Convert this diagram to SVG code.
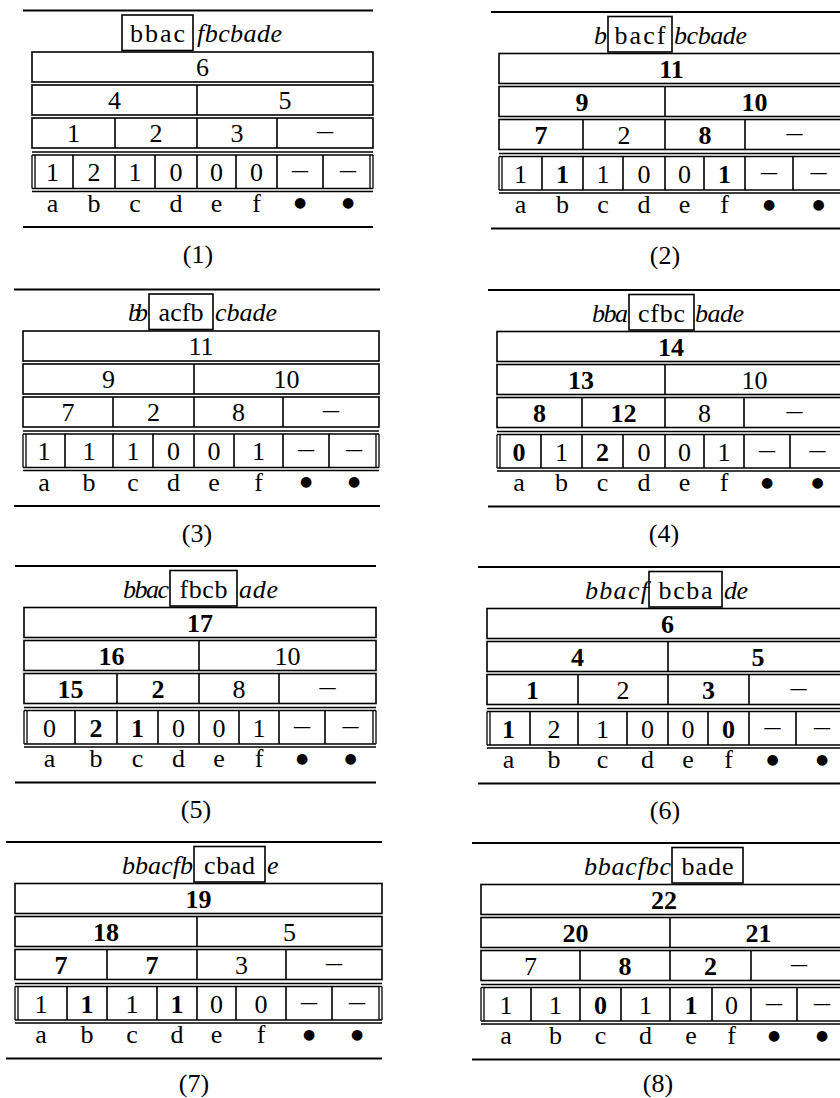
<svg xmlns="http://www.w3.org/2000/svg" width="840" height="1098" viewBox="0 0 840 1098">
<style>
.t{font-family:"Liberation Serif","Times New Roman",serif;font-size:26px;fill:#000;text-anchor:middle}
.i{font-style:italic}
.b{font-weight:bold}
.s{text-anchor:start}
.e{text-anchor:end}
.d{font-family:"DejaVu Sans",sans-serif;font-size:14px}
.rule{stroke:#000;stroke-width:2.2;fill:none}
.box{fill:none;stroke:#000;stroke-width:1.6}
.ln{stroke:#000;stroke-width:1.6;fill:none}
.dl{stroke:#000;stroke-width:1.3;fill:none}
</style>
<rect width="840" height="1098" fill="#fff"/>

<g id="panel1">
<path class="rule" d="M23 10.5H373M23 227H373"/>
<rect class="box" x="122" y="15" width="71" height="35.5"/>
<text class="t" x="157.5" y="42" textLength="55" lengthAdjust="spacing">bbac</text>
<text class="t i s" x="197" y="42" textLength="85" lengthAdjust="spacing">fbcbade</text>
<rect class="box" x="32" y="52" width="341" height="30"/>
<text class="t" x="202.5" y="76">6</text>
<rect class="box" x="32" y="85" width="341" height="30"/>
<path class="ln" d="M197 85V115"/>
<text class="t" x="114.5" y="109">4</text><text class="t" x="285" y="109">5</text>
<rect class="box" x="32" y="118" width="341" height="30"/>
<path class="ln" d="M115 118V148M197 118V148M277 118V148"/>
<text class="t" x="73.5" y="142">1</text><text class="t" x="156" y="142">2</text><text class="t" x="237" y="142">3</text><text class="t" x="325" y="139" textLength="16" lengthAdjust="spacingAndGlyphs">–</text>
<path class="dl" d="M32 152H373M32 155H373M32 188.5H373M32 191.5H373M32 155V188.5M35 155V188.5M370 155V188.5M373 155V188.5"/>
<path class="ln" d="M73 155V188.5M115 155V188.5M155 155V188.5M197 155V188.5M236 155V188.5M277 155V188.5M323 155V188.5"/>
<text class="t" x="52.5" y="181">1</text><text class="t" x="94" y="181">2</text><text class="t" x="135" y="181">1</text><text class="t" x="176" y="181">0</text><text class="t" x="216.5" y="181">0</text><text class="t" x="256.5" y="181">0</text><text class="t" x="300" y="178" textLength="16" lengthAdjust="spacingAndGlyphs">–</text><text class="t" x="348" y="178" textLength="16" lengthAdjust="spacingAndGlyphs">–</text>
<text class="t" x="52.5" y="211.5">a</text><text class="t" x="94" y="211.5">b</text><text class="t" x="135" y="211.5">c</text><text class="t" x="176" y="211.5">d</text><text class="t" x="216.5" y="211.5">e</text><text class="t" x="256.5" y="211.5">f</text><text class="t d" x="300" y="207">●</text><text class="t d" x="348" y="207">●</text>
<text class="t" x="198" y="262.5">(1)</text>
</g>

<g id="panel2">
<path class="rule" d="M491 12H850M491 228.5H850"/>
<rect class="box" x="608" y="16.5" width="64" height="35.5"/>
<text class="t i e" x="607" y="43.5">b</text>
<text class="t" x="640" y="43.5" textLength="51" lengthAdjust="spacing">bacf</text>
<text class="t i s" x="674" y="43.5" textLength="73" lengthAdjust="spacing">bcbade</text>
<rect class="box" x="499" y="53.5" width="345" height="30"/>
<text class="t b" x="671.5" y="77.5">11</text>
<rect class="box" x="499" y="86.5" width="345" height="30"/>
<path class="ln" d="M665 86.5V116.5"/>
<text class="t b" x="582" y="110.5">9</text><text class="t b" x="754.5" y="110.5">10</text>
<rect class="box" x="499" y="119.5" width="345" height="30"/>
<path class="ln" d="M583 119.5V149.5M665 119.5V149.5M745 119.5V149.5"/>
<text class="t b" x="541" y="143.5">7</text><text class="t" x="624" y="143.5">2</text><text class="t b" x="705" y="143.5">8</text><text class="t" x="794.5" y="140.5" textLength="16" lengthAdjust="spacingAndGlyphs">–</text>
<path class="dl" d="M499 153.5H844M499 156.5H844M499 190H844M499 193H844M499 156.5V190M502 156.5V190M841 156.5V190M844 156.5V190"/>
<path class="ln" d="M542 156.5V190M583 156.5V190M623 156.5V190M665 156.5V190M704 156.5V190M745 156.5V190M793 156.5V190"/>
<text class="t" x="520.5" y="182.5">1</text><text class="t b" x="562.5" y="182.5">1</text><text class="t" x="603" y="182.5">1</text><text class="t" x="644" y="182.5">0</text><text class="t" x="684.5" y="182.5">0</text><text class="t b" x="724.5" y="182.5">1</text><text class="t" x="769" y="179.5" textLength="16" lengthAdjust="spacingAndGlyphs">–</text><text class="t" x="818.5" y="179.5" textLength="16" lengthAdjust="spacingAndGlyphs">–</text>
<text class="t" x="520.5" y="213">a</text><text class="t" x="562.5" y="213">b</text><text class="t" x="603" y="213">c</text><text class="t" x="644" y="213">d</text><text class="t" x="684.5" y="213">e</text><text class="t" x="724.5" y="213">f</text><text class="t d" x="769" y="208.5">●</text><text class="t d" x="818.5" y="208.5">●</text>
<text class="t" x="665" y="264">(2)</text>
</g>

<g id="panel3">
<path class="rule" d="M14 289.5H380M14 506H380"/>
<rect class="box" x="149" y="294" width="64" height="35.5"/>
<text class="t i e" x="148" y="321" textLength="20" lengthAdjust="spacing">bb</text>
<text class="t" x="181" y="321" textLength="45" lengthAdjust="spacing">acfb</text>
<text class="t i s" x="215" y="321" textLength="62" lengthAdjust="spacing">cbade</text>
<rect class="box" x="23" y="331" width="356" height="30"/>
<text class="t" x="201" y="355">11</text>
<rect class="box" x="23" y="364" width="356" height="30"/>
<path class="ln" d="M194 364V394"/>
<text class="t" x="108.5" y="388">9</text><text class="t" x="286.5" y="388">10</text>
<rect class="box" x="23" y="397" width="356" height="30"/>
<path class="ln" d="M113 397V427M194 397V427M283 397V427"/>
<text class="t" x="68" y="421">7</text><text class="t" x="153.5" y="421">2</text><text class="t" x="238.5" y="421">8</text><text class="t" x="331" y="418" textLength="16" lengthAdjust="spacingAndGlyphs">–</text>
<path class="dl" d="M23 431H379M23 434H379M23 467.5H379M23 470.5H379M23 434V467.5M26 434V467.5M376 434V467.5M379 434V467.5"/>
<path class="ln" d="M65 434V467.5M113 434V467.5M153 434V467.5M194 434V467.5M234 434V467.5M283 434V467.5M329 434V467.5"/>
<text class="t" x="44" y="460">1</text><text class="t" x="89" y="460">1</text><text class="t" x="133" y="460">1</text><text class="t" x="173.5" y="460">0</text><text class="t" x="214" y="460">0</text><text class="t" x="258.5" y="460">1</text><text class="t" x="306" y="457" textLength="16" lengthAdjust="spacingAndGlyphs">–</text><text class="t" x="354" y="457" textLength="16" lengthAdjust="spacingAndGlyphs">–</text>
<text class="t" x="44" y="490.5">a</text><text class="t" x="89" y="490.5">b</text><text class="t" x="133" y="490.5">c</text><text class="t" x="173.5" y="490.5">d</text><text class="t" x="214" y="490.5">e</text><text class="t" x="258.5" y="490.5">f</text><text class="t d" x="306" y="486">●</text><text class="t d" x="354" y="486">●</text>
<text class="t" x="197" y="541.5">(3)</text>
</g>

<g id="panel4">
<path class="rule" d="M488 290H850M488 506.5H850"/>
<rect class="box" x="629" y="294.5" width="65" height="35.5"/>
<text class="t i e" x="628" y="321.5" textLength="36" lengthAdjust="spacing">bba</text>
<text class="t" x="661.5" y="321.5" textLength="47" lengthAdjust="spacing">cfbc</text>
<text class="t i s" x="695" y="321.5" textLength="49" lengthAdjust="spacing">bade</text>
<rect class="box" x="497" y="331.5" width="348" height="30"/>
<text class="t b" x="671" y="355.5">14</text>
<rect class="box" x="497" y="364.5" width="348" height="30"/>
<path class="ln" d="M665 364.5V394.5"/>
<text class="t b" x="581" y="388.5">13</text><text class="t" x="754.5" y="388.5">10</text>
<rect class="box" x="497" y="397.5" width="348" height="30"/>
<path class="ln" d="M582 397.5V427.5M665 397.5V427.5M744 397.5V427.5"/>
<text class="t b" x="539.5" y="421.5">8</text><text class="t b" x="623.5" y="421.5">12</text><text class="t" x="704.5" y="421.5">8</text><text class="t" x="794.5" y="418.5" textLength="16" lengthAdjust="spacingAndGlyphs">–</text>
<path class="dl" d="M497 431.5H845M497 434.5H845M497 468H845M497 471H845M497 434.5V468M500 434.5V468M842 434.5V468M845 434.5V468"/>
<path class="ln" d="M541 434.5V468M582 434.5V468M623 434.5V468M665 434.5V468M704 434.5V468M744 434.5V468M790 434.5V468"/>
<text class="t b" x="519" y="460.5">0</text><text class="t" x="561.5" y="460.5">1</text><text class="t b" x="602.5" y="460.5">2</text><text class="t" x="644" y="460.5">0</text><text class="t" x="684.5" y="460.5">0</text><text class="t" x="724" y="460.5">1</text><text class="t" x="767" y="457.5" textLength="16" lengthAdjust="spacingAndGlyphs">–</text><text class="t" x="817.5" y="457.5" textLength="16" lengthAdjust="spacingAndGlyphs">–</text>
<text class="t" x="519" y="491">a</text><text class="t" x="561.5" y="491">b</text><text class="t" x="602.5" y="491">c</text><text class="t" x="644" y="491">d</text><text class="t" x="684.5" y="491">e</text><text class="t" x="724" y="491">f</text><text class="t d" x="767" y="486.5">●</text><text class="t d" x="817.5" y="486.5">●</text>
<text class="t" x="664" y="542">(4)</text>
</g>

<g id="panel5">
<path class="rule" d="M15 566H376M15 782.5H376"/>
<rect class="box" x="170" y="570.5" width="67" height="35.5"/>
<text class="t i e" x="169" y="597.5" textLength="46" lengthAdjust="spacing">bbac</text>
<text class="t" x="203.5" y="597.5" textLength="48" lengthAdjust="spacing">fbcb</text>
<text class="t i s" x="239" y="597.5" textLength="39" lengthAdjust="spacing">ade</text>
<rect class="box" x="24" y="607.5" width="352" height="30"/>
<text class="t b" x="200" y="631.5">17</text>
<rect class="box" x="24" y="640.5" width="352" height="30"/>
<path class="ln" d="M199 640.5V670.5"/>
<text class="t b" x="111.5" y="664.5">16</text><text class="t" x="287.5" y="664.5">10</text>
<rect class="box" x="24" y="673.5" width="352" height="30"/>
<path class="ln" d="M117 673.5V703.5M199 673.5V703.5M279 673.5V703.5"/>
<text class="t b" x="70.5" y="697.5">15</text><text class="t b" x="158" y="697.5">2</text><text class="t" x="239" y="697.5">8</text><text class="t" x="327.5" y="694.5" textLength="16" lengthAdjust="spacingAndGlyphs">–</text>
<path class="dl" d="M24 707.5H376M24 710.5H376M24 744H376M24 747H376M24 710.5V744M27 710.5V744M373 710.5V744M376 710.5V744"/>
<path class="ln" d="M75 710.5V744M117 710.5V744M158 710.5V744M199 710.5V744M239 710.5V744M279 710.5V744M325 710.5V744"/>
<text class="t" x="49.5" y="736.5">0</text><text class="t b" x="96" y="736.5">2</text><text class="t b" x="137.5" y="736.5">1</text><text class="t" x="178.5" y="736.5">0</text><text class="t" x="219" y="736.5">0</text><text class="t" x="259" y="736.5">1</text><text class="t" x="302" y="733.5" textLength="16" lengthAdjust="spacingAndGlyphs">–</text><text class="t" x="350.5" y="733.5" textLength="16" lengthAdjust="spacingAndGlyphs">–</text>
<text class="t" x="49.5" y="767">a</text><text class="t" x="96" y="767">b</text><text class="t" x="137.5" y="767">c</text><text class="t" x="178.5" y="767">d</text><text class="t" x="219" y="767">e</text><text class="t" x="259" y="767">f</text><text class="t d" x="302" y="762.5">●</text><text class="t d" x="350.5" y="762.5">●</text>
<text class="t" x="196" y="818">(5)</text>
</g>

<g id="panel6">
<path class="rule" d="M478 567H850M478 783.5H850"/>
<rect class="box" x="649" y="571.5" width="73" height="35.5"/>
<text class="t i e" x="648" y="598.5" textLength="63" lengthAdjust="spacing">bbacf</text>
<text class="t" x="685.5" y="598.5" textLength="54" lengthAdjust="spacing">bcba</text>
<text class="t i s" x="724" y="598.5" textLength="24" lengthAdjust="spacing">de</text>
<rect class="box" x="487" y="608.5" width="361" height="30"/>
<text class="t b" x="667.5" y="632.5">6</text>
<rect class="box" x="487" y="641.5" width="361" height="30"/>
<path class="ln" d="M668 641.5V671.5"/>
<text class="t b" x="577.5" y="665.5">4</text><text class="t b" x="758" y="665.5">5</text>
<rect class="box" x="487" y="674.5" width="361" height="30"/>
<path class="ln" d="M578 674.5V704.5M668 674.5V704.5M749 674.5V704.5"/>
<text class="t b" x="532.5" y="698.5">1</text><text class="t" x="623" y="698.5">2</text><text class="t b" x="708.5" y="698.5">3</text><text class="t" x="798.5" y="695.5" textLength="16" lengthAdjust="spacingAndGlyphs">–</text>
<path class="dl" d="M487 708.5H848M487 711.5H848M487 745H848M487 748H848M487 711.5V745M490 711.5V745M845 711.5V745M848 711.5V745"/>
<path class="ln" d="M530 711.5V745M578 711.5V745M627 711.5V745M668 711.5V745M708 711.5V745M749 711.5V745M796 711.5V745"/>
<text class="t b" x="508.5" y="737.5">1</text><text class="t" x="554" y="737.5">2</text><text class="t" x="602.5" y="737.5">1</text><text class="t" x="647.5" y="737.5">0</text><text class="t" x="688" y="737.5">0</text><text class="t b" x="728.5" y="737.5">0</text><text class="t" x="772.5" y="734.5" textLength="16" lengthAdjust="spacingAndGlyphs">–</text><text class="t" x="822" y="734.5" textLength="16" lengthAdjust="spacingAndGlyphs">–</text>
<text class="t" x="508.5" y="768">a</text><text class="t" x="554" y="768">b</text><text class="t" x="602.5" y="768">c</text><text class="t" x="647.5" y="768">d</text><text class="t" x="688" y="768">e</text><text class="t" x="728.5" y="768">f</text><text class="t d" x="772.5" y="763.5">●</text><text class="t d" x="822" y="763.5">●</text>
<text class="t" x="665" y="819">(6)</text>
</g>

<g id="panel7">
<path class="rule" d="M6 842H382M6 1058.5H382"/>
<rect class="box" x="194" y="846.5" width="71" height="35.5"/>
<text class="t i e" x="193" y="873.5" textLength="71" lengthAdjust="spacing">bbacfb</text>
<text class="t" x="229.5" y="873.5" textLength="51" lengthAdjust="spacing">cbad</text>
<text class="t i s" x="267" y="873.5">e</text>
<rect class="box" x="15" y="883.5" width="367" height="30"/>
<text class="t b" x="198.5" y="907.5">19</text>
<rect class="box" x="15" y="916.5" width="367" height="30"/>
<path class="ln" d="M197 916.5V946.5"/>
<text class="t b" x="106" y="940.5">18</text><text class="t" x="289.5" y="940.5">5</text>
<rect class="box" x="15" y="949.5" width="367" height="30"/>
<path class="ln" d="M107 949.5V979.5M197 949.5V979.5M286 949.5V979.5"/>
<text class="t b" x="61" y="973.5">7</text><text class="t b" x="152" y="973.5">7</text><text class="t" x="241.5" y="973.5">3</text><text class="t" x="334" y="970.5" textLength="16" lengthAdjust="spacingAndGlyphs">–</text>
<path class="dl" d="M15 983.5H382M15 986.5H382M15 1020H382M15 1023H382M15 986.5V1020M18 986.5V1020M379 986.5V1020M382 986.5V1020"/>
<path class="ln" d="M67 986.5V1020M107 986.5V1020M157 986.5V1020M197 986.5V1020M236 986.5V1020M286 986.5V1020M332 986.5V1020"/>
<text class="t" x="41" y="1012.5">1</text><text class="t b" x="87" y="1012.5">1</text><text class="t" x="132" y="1012.5">1</text><text class="t b" x="177" y="1012.5">1</text><text class="t" x="216.5" y="1012.5">0</text><text class="t" x="261" y="1012.5">0</text><text class="t" x="309" y="1009.5" textLength="16" lengthAdjust="spacingAndGlyphs">–</text><text class="t" x="357" y="1009.5" textLength="16" lengthAdjust="spacingAndGlyphs">–</text>
<text class="t" x="41" y="1043">a</text><text class="t" x="87" y="1043">b</text><text class="t" x="132" y="1043">c</text><text class="t" x="177" y="1043">d</text><text class="t" x="216.5" y="1043">e</text><text class="t" x="261" y="1043">f</text><text class="t d" x="309" y="1038.5">●</text><text class="t d" x="357" y="1038.5">●</text>
<text class="t" x="194" y="1091.5">(7)</text>
</g>

<g id="panel8">
<path class="rule" d="M472 843H850M472 1059.5H850"/>
<rect class="box" x="672" y="847.5" width="71" height="35.5"/>
<text class="t i e" x="671" y="874.5" textLength="87" lengthAdjust="spacing">bbacfbc</text>
<text class="t" x="707.5" y="874.5" textLength="52" lengthAdjust="spacing">bade</text>
<rect class="box" x="481" y="884.5" width="366" height="30"/>
<text class="t b" x="664" y="908.5">22</text>
<rect class="box" x="481" y="917.5" width="366" height="30"/>
<path class="ln" d="M670 917.5V947.5"/>
<text class="t b" x="575.5" y="941.5">20</text><text class="t b" x="758.5" y="941.5">21</text>
<rect class="box" x="481" y="950.5" width="366" height="30"/>
<path class="ln" d="M580 950.5V980.5M670 950.5V980.5M751 950.5V980.5"/>
<text class="t" x="530.5" y="974.5">7</text><text class="t b" x="625" y="974.5">8</text><text class="t b" x="710.5" y="974.5">2</text><text class="t" x="799" y="971.5" textLength="16" lengthAdjust="spacingAndGlyphs">–</text>
<path class="dl" d="M481 984.5H847M481 987.5H847M481 1021H847M481 1024H847M481 987.5V1021M484 987.5V1021M844 987.5V1021M847 987.5V1021"/>
<path class="ln" d="M531 987.5V1021M580 987.5V1021M621 987.5V1021M670 987.5V1021M712 987.5V1021M751 987.5V1021M797 987.5V1021"/>
<text class="t" x="506" y="1013.5">1</text><text class="t" x="555.5" y="1013.5">1</text><text class="t b" x="600.5" y="1013.5">0</text><text class="t" x="645.5" y="1013.5">1</text><text class="t b" x="691" y="1013.5">1</text><text class="t" x="731.5" y="1013.5">0</text><text class="t" x="774" y="1010.5" textLength="16" lengthAdjust="spacingAndGlyphs">–</text><text class="t" x="822" y="1010.5" textLength="16" lengthAdjust="spacingAndGlyphs">–</text>
<text class="t" x="506" y="1044">a</text><text class="t" x="555.5" y="1044">b</text><text class="t" x="600.5" y="1044">c</text><text class="t" x="645.5" y="1044">d</text><text class="t" x="691" y="1044">e</text><text class="t" x="731.5" y="1044">f</text><text class="t d" x="774" y="1039.5">●</text><text class="t d" x="822" y="1039.5">●</text>
<text class="t" x="658" y="1091.5">(8)</text>
</g>
</svg>
